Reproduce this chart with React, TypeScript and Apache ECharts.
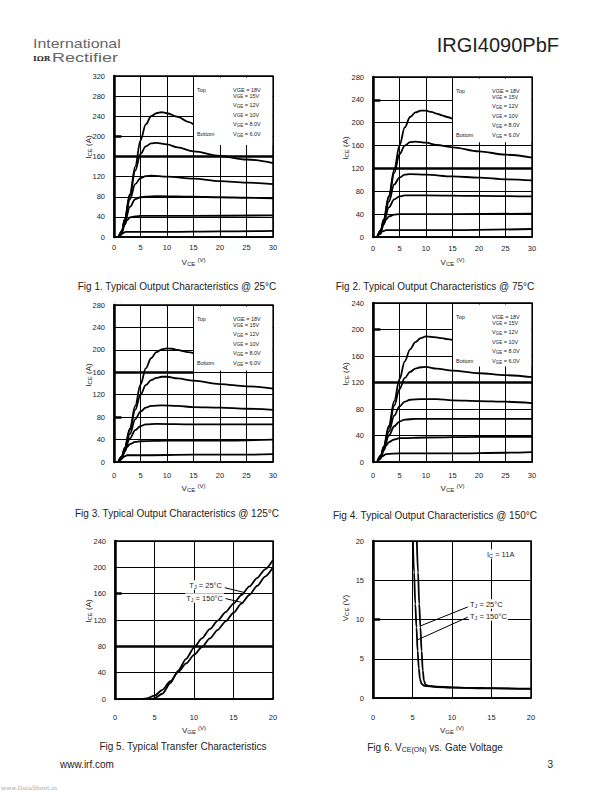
import React, { useEffect, useRef } from "react";
import * as echarts from "echarts";

const FONT = "Liberation Sans";

// ---------- Fig 1: output characteristics @ 25°C (VCE [V], ICE [A]) ----------
const fig1Vge18 = [[0.9,0],[1.5,12],[2,35],[3,85],[4,140],[5,192],[6,224],[7,240],[8,246],[9,248],[10,246],[12,239],[14,229],[15,224]];
const fig1Vge15 = [[0.9,0],[1.5,12],[2,34],[3,82],[4,132],[5,165],[6,180],[7,186],[8,187],[10,184],[12,178],[15,170],[20,161],[25,154],[30,147]];
const fig1Vge12 = [[0.9,0],[1.5,11],[2,32],[3,75],[4,105],[5,117],[6,121],[7,122],[10,120],[15,116],[20,111],[25,108],[30,105]];
const fig1Vge10 = [[0.9,0],[1.5,10],[2,28],[3,60],[4,75],[5,79],[6,80],[8,81],[15,80],[20,79],[25,78],[30,77]];
const fig1Vge8 = [[0.9,0],[1.5,9],[2,24],[2.5,34],[3,39],[4,41],[5,42],[15,42],[30,43]];
const fig1Vge6 = [[0.9,0],[1.3,4],[1.7,8],[2.2,10],[3,10],[10,10],[20,11],[30,12]];

// ---------- Fig 2: @ 75°C ----------
const fig2Vge18 = [[0.8,0],[1.5,12],[2,30],[3,72],[4,118],[5,160],[6,192],[7,210],[8,218],[9,221],[10,221],[11,219],[12,216],[13,213],[14,210],[15,207]];
const fig2Vge15 = [[0.8,0],[1.5,12],[2,30],[3,70],[4,112],[5,145],[6,160],[7,166],[8,167],[10,165],[12,161],[15,157],[20,150],[25,144],[30,139]];
const fig2Vge12 = [[0.8,0],[1.5,11],[2,28],[3,62],[4,92],[5,104],[6,109],[7,110],[10,109],[15,106],[20,104],[25,101],[30,99]];
const fig2Vge10 = [[0.8,0],[1.5,10],[2,25],[3,52],[4,66],[5,71],[6,73],[10,73],[20,72],[30,71]];
const fig2Vge8 = [[0.8,0],[1.5,9],[2,22],[2.5,31],[3,36],[4,39],[5,40],[15,40],[30,41]];
const fig2Vge6 = [[0.8,0],[1.3,5],[1.8,10],[2.5,12],[5,12],[15,12],[30,14]];

// ---------- Fig 3: @ 125°C ----------
const fig3Vge18 = [[0.8,0],[1.5,10],[2,25],[3,60],[4,100],[5,138],[6,167],[7,185],[8,196],[9,201],[10,202.5],[11,202],[12,200],[13,198],[14,196],[15,194]];
const fig3Vge15 = [[0.8,0],[1.5,10],[2,24],[3,57],[4,93],[5,120],[6,137],[7,146],[8,150],[9,152],[10,152],[12,149],[15,145],[20,139],[25,135],[30,131]];
const fig3Vge12 = [[0.8,0],[1.5,9],[2,22],[3,50],[4,76],[5,90],[6,97],[7,100],[9,101],[12,100],[15,98],[20,97],[25,95],[30,93]];
const fig3Vge10 = [[0.8,0],[1.5,8],[2,20],[3,42],[4,57],[5,64],[6,67],[8,68],[15,67],[30,67]];
const fig3Vge8 = [[0.8,0],[1.5,8],[2,18],[2.5,27],[3,32],[4,36],[5,37],[10,38],[20,38],[30,40]];
const fig3Vge6 = [[0.8,0],[1.3,4],[1.8,9],[2.5,12],[5,12],[15,13],[25,13],[30,14]];

// ---------- Fig 4: @ 150°C ----------
const fig4Vge18 = [[0.8,0],[1.5,10],[2,23],[3,55],[4,92],[5,125],[6,152],[7,170],[8,181],[9,187],[10,189.5],[11,189],[12,188],[13,187],[14,185.5],[15,184.5]];
const fig4Vge15 = [[0.8,0],[1.5,10],[2,22],[3,52],[4,85],[5,110],[6,127],[7,136],[8,141],[9,143],[10,143.5],[12,141],[15,138],[20,134],[25,131],[30,128]];
const fig4Vge12 = [[0.8,0],[1.5,9],[2,21],[3,46],[4,70],[5,84],[6,91],[7,94],[9,95],[12,95],[15,93],[20,92],[25,91],[30,89]];
const fig4Vge10 = [[0.8,0],[1.5,8],[2,19],[3,40],[4,54],[5,61],[6,64],[8,65],[15,65],[30,65]];
const fig4Vge8 = [[0.8,0],[1.5,7],[2,17],[2.5,25],[3,30],[4,34],[5,36],[10,37],[20,38],[30,38]];
const fig4Vge6 = [[0.8,0],[1.3,4],[1.8,9],[2.5,12],[5,13],[15,13],[25,14],[30,15]];

// ---------- Fig 5: transfer characteristics (VGE [V], ICE [A]) ----------
const fig5Tj25 = [[4.5,0],[5,1],[6,8],[7,24],[8,43],[9,61],[10,78],[11,92],[12,106],[13,119],[14,132],[15,145],[16,158],[17,171],[18,184],[19,197],[20,211]];
const fig5Tj150 = [[3.5,0],[4,1],[5,5],[6,14],[7,27],[8,41],[9,54],[10,67],[11,79],[12,92],[13,105],[14,118],[15,131],[16,145],[17,158],[18,172],[19,186],[20,200]];

// ---------- Fig 6: VCE(on) vs gate voltage (VGE [V], VCE [V]) ----------
const fig6Tj25 = [[5.55,20],[5.7,16],[5.85,12],[6.0,9],[6.15,6],[6.3,3.5],[6.45,2.2],[6.65,1.7],[7,1.55],[8,1.45],[10,1.35],[12,1.3],[15,1.25],[20,1.2]];
const fig6Tj150 = [[5.05,20],[5.2,16],[5.35,12],[5.5,9],[5.65,6],[5.8,3.8],[5.95,2.4],[6.15,1.8],[6.5,1.55],[8,1.4],[10,1.32],[15,1.22],[20,1.15]];

// ---------- axis ranges / ticks ----------
const outputXMax = 30, outputXStep = 5;
const transferXMax = 20, transferXStep = 5;
const yMaxes = [320, 280, 280, 240, 240, 20];
const yStepsList = [40, 40, 40, 40, 40, 5];

const gateLegend = ["18V", "15V", "12V", "10V", "8.0V", "6.0V"];
const captions = [
  "Fig 1. Typical Output Characteristics @ 25°C",
  "Fig 2. Typical Output Characteristics @ 75°C",
  "Fig 3. Typical Output Characteristics @ 125°C",
  "Fig 4. Typical Output Characteristics @ 150°C",
  "Fig 5. Typical Transfer Characteristics",
  "Fig 6. V{s|CE(ON)} vs. Gate Voltage",
];

const panels = [
  { left: 114, top: 76, width: 159, height: 161, xMax: outputXMax, xStep: outputXStep, curves: [fig1Vge18, fig1Vge15, fig1Vge12, fig1Vge10, fig1Vge8, fig1Vge6], box: [15, 183], thick: [{ yAxis: 160 }], stub: [200, 1.4], xLabMargin: 6, xNameGap: 20, xName: "CE", yName: "I{s|CE} (A)", yNamePos: [88, 147], capPos: [177, 286], legend: true, smooth: 0.35 },
  { left: 373, top: 77, width: 159, height: 160, xMax: outputXMax, xStep: outputXStep, curves: [fig2Vge18, fig2Vge15, fig2Vge12, fig2Vge10, fig2Vge8, fig2Vge6], box: [15, 166], thick: [{ yAxis: 120 }], stub: [240, 1.4], xLabMargin: 7, xNameGap: 20, xName: "CE", yName: "I{s|CE} (A)", yNamePos: [345, 148], capPos: [435, 286], legend: true, smooth: 0.35 },
  { left: 114, top: 305, width: 159, height: 157, xMax: outputXMax, xStep: outputXStep, curves: [fig3Vge18, fig3Vge15, fig3Vge12, fig3Vge10, fig3Vge8, fig3Vge6], box: [15, 163], thick: [[{ coord: [0, 160] }, { coord: [15, 160] }]], stub: [80, 1.4], xLabMargin: 9, xNameGap: 21, xName: "CE", yName: "I{s|CE} (A)", yNamePos: [88, 375], capPos: [177, 513], legend: true, smooth: 0.35 },
  { left: 373, top: 303, width: 159, height: 159, xMax: outputXMax, xStep: outputXStep, curves: [fig4Vge18, fig4Vge15, fig4Vge12, fig4Vge10, fig4Vge8, fig4Vge6], box: [15, 144], thick: [{ yAxis: 120 }], stub: [200, 1.4], xLabMargin: 9, xNameGap: 21, xName: "CE", yName: "I{s|CE} (A)", yNamePos: [345, 374], capPos: [435, 515], legend: true, smooth: 0.35 },
  { left: 115, top: 541, width: 158, height: 158, xMax: transferXMax, xStep: transferXStep, curves: [fig5Tj25, fig5Tj150], box: null, thick: [{ yAxis: 80 }], stub: [160, 0.85], xLabMargin: 14, xNameGap: 26, xName: "GE", yName: "I{s|CE} (A)", yNamePos: [88, 611], capPos: [183, 746], legend: false, smooth: 0.25,
    leaders: [[[13.9, 169], [16.3, 162]], [[14.0, 152.5], [16.3, 146]]] },
  { left: 373, top: 541, width: 158, height: 157, xMax: transferXMax, xStep: transferXStep, curves: [fig6Tj25, fig6Tj150], box: null, thick: [], stub: [10, 0.9], xLabMargin: 15, xNameGap: 27, xName: "GE", yName: "V{s|CE} (V)", yNamePos: [345, 608], capPos: [435, 747], legend: false, smooth: 0.35,
    leaders: [[[12.0, 11.6], [6.05, 9.2]], [[12.0, 10.3], [5.62, 7.4]]] },
];

const subRich = (size: number, sub: number) => ({
  s: { fontSize: sub, fontFamily: FONT, fill: "#222", color: "#222", lineHeight: sub, verticalAlign: "bottom" },
});

function txt(x: number, y: number, text: string, o: any = {}) {
  const size = o.fontSize || 10;
  const style: any = {
    text,
    fill: o.fill || "#222",
    fontSize: size,
    fontFamily: o.fontFamily || FONT,
    fontWeight: o.fontWeight || "normal",
    align: o.align || "left",
    textAlign: o.align || "left",
    verticalAlign: "middle",
    textVerticalAlign: "middle",
    lineHeight: size + 2,
    rich: subRich(size, o.sub || Math.round(size * 0.72)),
  };
  if (o.bg) { style.backgroundColor = o.bg; style.padding = [0, 1, 0, 1]; }
  return { type: "text", x, y, rotation: o.rotation || 0, scaleX: o.scaleX || 1, silent: true, z: 100, style };
}

function buildOption() {
  const grid: any[] = [];
  const xAxis: any[] = [];
  const yAxis: any[] = [];
  const series: any[] = [];

  panels.forEach((p, i) => {
    grid.push({ left: p.left, top: p.top, width: p.width, height: p.height, show: true, borderColor: "#000", borderWidth: 1.5, backgroundColor: "#fff" });
    xAxis.push({
      gridIndex: i, type: "value", min: 0, max: p.xMax, interval: p.xStep,
      axisLine: { show: true, onZero: false, lineStyle: { color: "#000", width: 1.5 } },
      axisTick: { show: false },
      splitLine: { show: true, lineStyle: { color: "#000", width: 1 } },
      axisLabel: { margin: p.xLabMargin, fontSize: 7.5, color: "#222", fontFamily: FONT, showMinLabel: true, showMaxLabel: true },
      name: `V{s|${p.xName}} {a|(V)}`, nameLocation: "middle", nameGap: p.xNameGap,
      nameTextStyle: {
        fontSize: 8, color: "#222", fontFamily: FONT, lineHeight: 10,
        rich: { s: { fontSize: 6, color: "#222", fontFamily: FONT, lineHeight: 5, verticalAlign: "bottom" }, a: { fontSize: 6, color: "#222", fontFamily: FONT, lineHeight: 10, verticalAlign: "top" } },
      },
    });
    yAxis.push({
      gridIndex: i, type: "value", min: 0, max: yMaxes[i], interval: yStepsList[i],
      axisLine: { show: true, onZero: false, lineStyle: { color: "#000", width: 2.5 } },
      axisTick: { show: false },
      splitLine: { show: true, lineStyle: { color: "#000", width: 1 } },
      axisLabel: { margin: 9, fontSize: 7.5, color: "#222", fontFamily: FONT, showMinLabel: true, showMaxLabel: true },
    });

    p.curves.forEach((d, k) => {
      const s: any = {
        type: "line", xAxisIndex: i, yAxisIndex: i, data: d, symbol: "none", showSymbol: false,
        smooth: p.smooth, smoothMonotone: "x", silent: true, z: 3,
        lineStyle: { color: "#000", width: 1.8 },
      };
      if (k === 0) {
        s.markLine = {
          silent: true, symbol: ["none", "none"], label: { show: false }, animation: false,
          lineStyle: { color: "#000", width: 2.5, type: "solid" },
          data: [...p.thick, [{ coord: [0, p.stub[0]] }, { coord: [p.stub[1], p.stub[0]] }]],
        };
        if (p.box) {
          s.markArea = {
            silent: true, itemStyle: { color: "#ffffff", opacity: 1, borderWidth: 0 },
            data: [[{ coord: [p.box[0] + 0.1, p.box[1]] }, { coord: [p.xMax - 0.15, yMaxes[i] - 1.5 * yMaxes[i] / p.height] }]],
          };
        }
      }
      if (k === 1 && (p as any).leaders) {
        s.markLine = {
          silent: true, symbol: ["none", "none"], label: { show: false }, animation: false,
          lineStyle: { color: "#000", width: 1, type: "solid" },
          data: (p as any).leaders.map((l: number[][]) => [{ coord: l[0] }, { coord: l[1] }]),
        };
      }
      series.push(s);
    });
  });

  return {
    animation: false,
    backgroundColor: "#fff",
    textStyle: { fontFamily: FONT },
    grid, xAxis, yAxis, series,
  };
}

function buildGraphic() {
  const graphic: any[] = [];
  panels.forEach((p, i) => {
    graphic.push(txt(p.yNamePos[0], p.yNamePos[1], p.yName, { fontSize: 8, sub: 6, align: "center", rotation: Math.PI / 2 }));
    graphic.push(txt(p.capPos[0], p.capPos[1], captions[i], { fontSize: 10, sub: 7, align: "center" }));
    if (p.legend) {
      const tx = p.left + 83;
      const vx = p.left + 119;
      const offs = [13.5, 19.5, 29, 38.5, 48, 58];
      graphic.push(txt(tx, p.top + offs[0], "Top", { fontSize: 5.5 }));
      graphic.push(txt(tx, p.top + offs[5], "Bottom", { fontSize: 5.5 }));
      gateLegend.forEach((g, j) => {
        const t = j === 0 ? `VGE = ${g}` : `V{s|GE} = ${g}`;
        graphic.push(txt(vx, p.top + offs[j], t, { fontSize: 5.5, sub: 4.5 }));
      });
    }
  });

  graphic.push(txt(223, 585, "T{s|J} = 25°C", { fontSize: 7.5, sub: 5.5, align: "right", bg: "#fff" }));
  graphic.push(txt(224, 598, "T{s|J} = 150°C", { fontSize: 7.5, sub: 5.5, align: "right", bg: "#fff" }));
  graphic.push(txt(486, 554, "I{s|C} = 11A", { fontSize: 7.5, sub: 5.5, bg: "#fff" }));
  graphic.push(txt(469, 604, "T{s|J} = 25°C", { fontSize: 7.5, sub: 5.5, bg: "#fff" }));
  graphic.push(txt(469, 616, "T{s|J} = 150°C", { fontSize: 7.5, sub: 5.5, bg: "#fff" }));

  graphic.push(txt(33, 44, "International", { fontSize: 12, fill: "#666", scaleX: 1.33 }));
  graphic.push(txt(33, 58, "IΩR", { fontSize: 8, fontWeight: "bold", fontFamily: "DejaVu Serif", fill: "#333" }));
  graphic.push(txt(52, 58, "Rectifier", { fontSize: 12, fill: "#666", scaleX: 1.5 }));
  graphic.push(txt(559, 45, "IRGI4090PbF", { fontSize: 20, align: "right", fill: "#222" }));
  graphic.push(txt(60, 764, "www.irf.com", { fontSize: 10 }));
  graphic.push(txt(553, 764, "3", { fontSize: 10, align: "right" }));
  graphic.push(txt(1, 787, "www.DataSheet.in", { fontSize: 6, fill: "#aaa", fontFamily: "DejaVu Serif" }));
  return graphic;
}

export default function App() {
  const ref = useRef<HTMLDivElement>(null);
  useEffect(() => {
    if (!ref.current) return;
    const chart = echarts.init(ref.current, null, { renderer: "svg", width: 612, height: 792 });
    const opt: any = buildOption();
    opt.graphic = buildGraphic();
    chart.setOption(opt);
    return () => chart.dispose();
  }, []);
  return <div ref={ref} style={{ position: "absolute", left: 0, top: 0, width: 612, height: 792, background: "#fff" }} />;
}
